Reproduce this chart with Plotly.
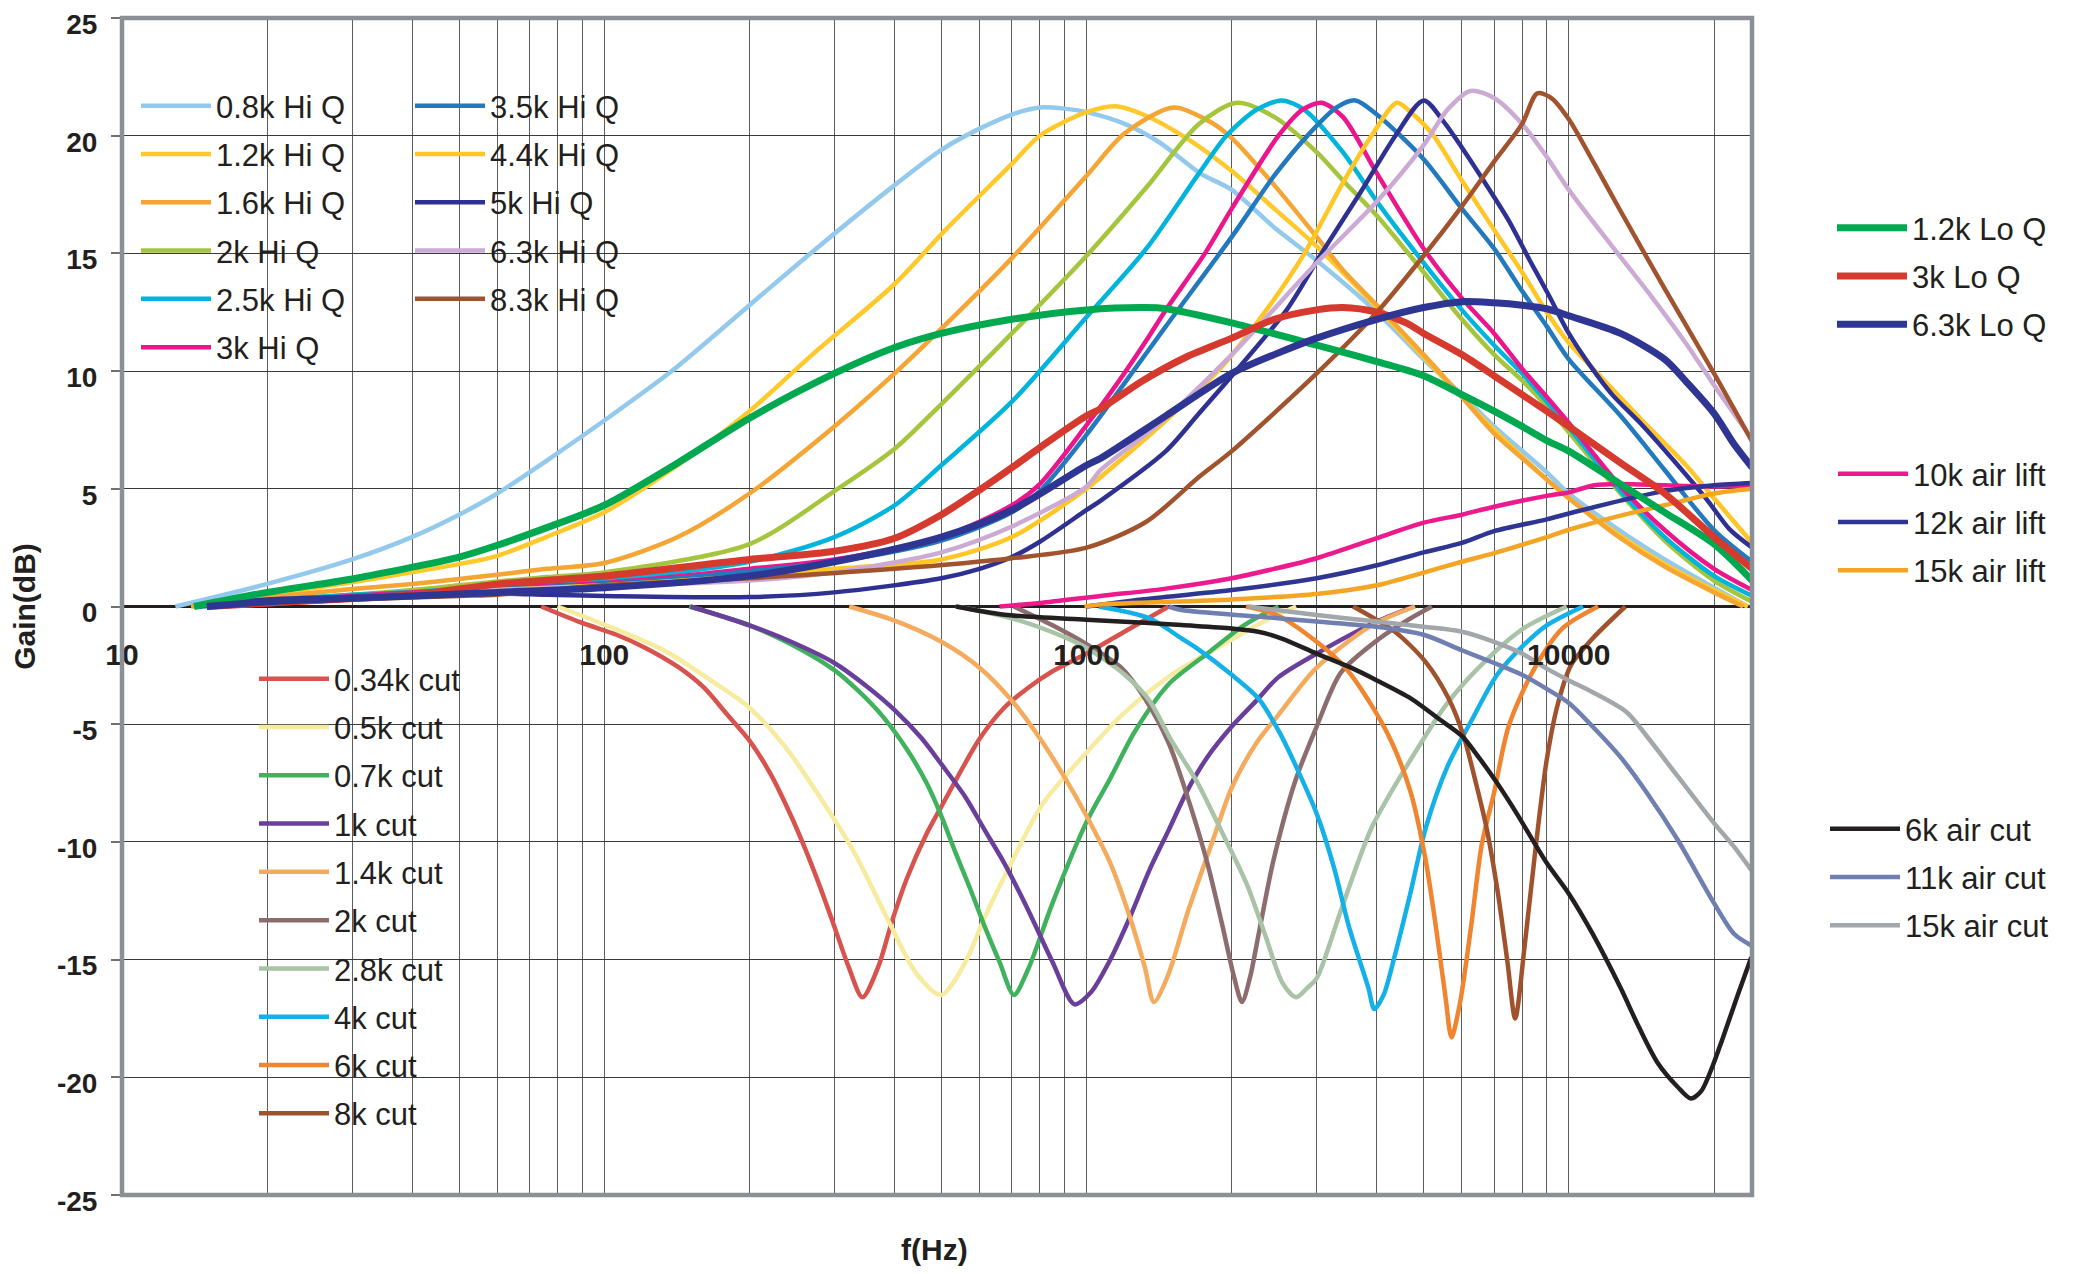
import math
import plotly.graph_objects as go

# ------------------------------------------------------------------
# DATA (frequency in Hz, gain in dB)
# ------------------------------------------------------------------
x_tick_vals = [10, 100, 1000, 10000]
x_tick_text = ["10", "100", "1000", "10000"]
x_minor_vals = [20, 30, 40, 50, 60, 70, 80, 90,
                200, 300, 400, 500, 600, 700, 800, 900,
                2000, 3000, 4000, 5000, 6000, 7000, 8000, 9000,
                20000]
y_tick_vals = [25, 20, 15, 10, 5, 0, -5, -10, -15, -20, -25]
y_tick_text = ["25", "20", "15", "10", "5", "0", "-5", "-10", "-15", "-20", "-25"]

# ---- Hi Q boosts ----
f_hiq_08 = [12.9, 20, 30, 40, 50, 60, 76, 100, 138, 200, 275, 400, 500, 600, 700, 800, 900, 1000, 1200,
            1420, 1720, 2000, 2450, 3000, 4000, 5000, 6000, 7000, 9000, 10000, 12800, 15800, 20000, 23500]
g_hiq_08 = [0, 0.96, 2.0, 2.96, 3.9, 4.8, 6.2, 7.9, 10.0, 12.8, 15.2, 17.9, 19.4, 20.3, 20.9, 21.2, 21.15, 21.0, 20.5,
            19.7, 18.4, 17.7, 16.1, 14.7, 12.5, 10.5, 9.0, 7.65, 5.7, 4.8, 3.2, 2.0, 0.8, 0.0]

f_hiq_12 = [14, 20, 30, 40, 50, 60, 76, 100, 142, 200, 270, 400, 510, 700, 800, 1000, 1150, 1310, 1610, 2000,
            2450, 3000, 4000, 5000, 6000, 7000, 9000, 10000, 12800, 15800, 20000, 23500]
g_hiq_12 = [0, 0.5, 1.03, 1.46, 1.8, 2.15, 2.96, 4.0, 6.0, 8.3, 10.7, 13.7, 16.0, 18.8, 20.0, 21.0, 21.25, 20.9, 19.9, 18.5,
            16.9, 15.3, 12.7, 10.6, 8.9, 7.5, 5.4, 4.6, 3.0, 1.8, 0.7, 0.0]

f_hiq_16 = [13.9, 20, 30, 40, 50, 60, 76, 100, 142, 200, 300, 400, 500, 700, 1000, 1200, 1515, 1800, 2000, 2450,
            3000, 3400, 4000, 5000, 6000, 7000, 8000, 10000, 12800, 15800, 20000, 23000]
g_hiq_16 = [0, 0.39, 0.74, 0.96, 1.17, 1.35, 1.6, 1.85, 2.95, 4.8, 7.65, 9.9, 11.8, 14.8, 18.3, 20.1, 21.2, 20.6, 19.9, 17.9,
            15.7, 14.3, 12.8, 10.7, 8.9, 7.35, 6.3, 4.6, 2.9, 1.7, 0.6, 0.0]

f_hiq_20 = [14.4, 20, 30, 40, 50, 60, 76, 100, 200, 300, 400, 500, 700, 1000, 1330, 1710, 2050, 2450, 3000, 3400,
            4000, 5000, 6000, 7000, 8000, 9000, 10000, 12800, 15800, 20000, 24000]
g_hiq_20 = [0, 0.25, 0.5, 0.7, 0.9, 1.06, 1.25, 1.45, 2.65, 4.9, 6.7, 8.6, 11.6, 14.9, 17.8, 20.5, 21.4, 20.8, 19.3, 18.1,
            16.6, 14.2, 12.2, 10.7, 9.6, 8.5, 7.4, 4.8, 2.8, 1.1, 0.2]

f_hiq_25 = [14.8, 20, 30, 40, 50, 60, 76, 100, 200, 300, 400, 500, 700, 1000, 1330, 1710, 1950, 2250, 2540, 2830,
            3400, 4000, 5000, 6000, 7000, 8000, 9000, 10000, 12800, 15800, 20000, 24000]
g_hiq_25 = [0, 0.25, 0.5, 0.62, 0.75, 0.85, 1.0, 1.15, 1.9, 2.95, 4.3, 6.0, 8.7, 12.3, 15.2, 18.4, 20.0, 21.1, 21.5, 21.1,
            19.3, 17.2, 14.6, 12.6, 11.1, 9.9, 8.7, 7.6, 4.9, 2.95, 1.3, 0.45]

f_hiq_30 = [15.8, 20, 30, 40, 60, 100, 200, 300, 500, 700, 800, 1000, 1160, 1330, 1460, 1760, 2000, 2500, 2800, 3070,
            3400, 4000, 5000, 6000, 7000, 8000, 9000, 10000, 12800, 15800, 20000, 24000]
g_hiq_30 = [0, 0.2, 0.45, 0.6, 0.8, 1.0, 1.6, 2.0, 2.95, 4.3, 5.2, 7.7, 9.5, 11.3, 12.6, 15.0, 16.9, 20.0, 21.1, 21.4,
            20.8, 18.4, 15.2, 13.1, 11.6, 10.1, 8.9, 7.8, 5.1, 3.25, 1.6, 0.7]

f_hiq_35 = [15, 20, 40, 60, 100, 200, 300, 500, 700, 800, 1000, 1200, 1460, 2000, 2450, 2900, 3300, 3610, 4000, 5000,
            6000, 7000, 8000, 9000, 10000, 12800, 15800, 20000, 24000]
g_hiq_35 = [0, 0.2, 0.55, 0.75, 0.95, 1.5, 1.9, 2.8, 4.0, 4.9, 7.3, 9.5, 11.9, 15.7, 18.3, 20.1, 21.2, 21.5, 20.9, 19.0,
            16.9, 15.2, 13.4, 11.9, 10.5, 8.1, 5.8, 3.25, 1.9]

f_hiq_44 = [15, 20, 40, 60, 100, 200, 300, 500, 700, 1000, 1070, 1460, 1910, 2400, 2830, 3400, 3900, 4400, 4700, 5200,
            6000, 7000, 8000, 9000, 10000, 11600, 14200, 17500, 20000, 24000]
g_hiq_44 = [0, 0.2, 0.5, 0.7, 0.9, 1.3, 1.6, 2.0, 2.95, 5.0, 5.5, 7.9, 10.2, 12.8, 15.0, 18.0, 20.0, 21.4, 21.0, 20.1,
            18.1, 16.0, 14.2, 12.5, 11.2, 9.8, 7.9, 6.0, 4.6, 2.7]

f_hiq_50 = [14.5, 20, 40, 60, 76, 100, 200, 300, 500, 600, 700, 800, 1000, 1070, 1460, 1710, 2120, 2600, 3070, 3700,
            4370, 5000, 5500, 6000, 6700, 7500, 8300, 9100, 10000, 11100, 12300, 14200, 16500, 19400, 21500, 24000]
g_hiq_50 = [0, 0.3, 0.45, 0.55, 0.5, 0.45, 0.4, 0.6, 1.2, 1.6, 2.1, 2.75, 4.1, 4.5, 6.6, 8.2, 10.4, 12.6, 15.0, 17.6,
            20.0, 21.5, 20.6, 19.5, 18.0, 16.4, 14.7, 13.2, 11.6, 10.2, 9.0, 7.7, 6.2, 4.5, 3.3, 2.5]

f_hiq_63 = [15, 20, 40, 60, 100, 200, 300, 500, 700, 1000, 1070, 1460, 2000, 3000, 4000, 5000, 5600, 6250, 7000, 8000,
            9000, 10000, 12300, 14800, 17600, 20000, 24000]
g_hiq_63 = [0, 0.2, 0.5, 0.7, 0.85, 1.1, 1.45, 2.3, 3.4, 5.1, 5.8, 8.0, 10.7, 14.6, 17.2, 19.6, 21.1, 21.9, 21.6, 20.5,
            19.1, 17.7, 15.3, 13.2, 11.1, 9.4, 7.1]

f_hiq_83 = [16, 20, 30, 50, 60, 100, 200, 400, 700, 1000, 1330, 1710, 2000, 3000, 4000, 5000, 6000, 7000, 8000, 8600,
            9200, 10000, 11300, 12800, 15800, 20000, 24000]
g_hiq_83 = [0, 0.1, 0.3, 0.45, 0.5, 0.9, 1.2, 1.6, 2.05, 2.5, 3.6, 5.5, 6.6, 9.9, 12.5, 14.9, 17.0, 18.9, 20.5, 21.8,
            21.6, 20.7, 18.8, 16.8, 13.5, 9.9, 7.0]

# ---- Lo Q boosts ----
f_loq_12 = [14.1, 20, 30, 40, 50, 60, 76, 100, 142, 200, 300, 400, 500, 700, 1000, 1330, 1460, 2000, 3000, 4000,
            5000, 6000, 7000, 8000, 9000, 10000, 12800, 15800, 20000, 24000]
g_loq_12 = [0, 0.6, 1.17, 1.67, 2.1, 2.6, 3.35, 4.3, 6.1, 8.0, 9.9, 11.0, 11.6, 12.2, 12.6, 12.7, 12.65, 12.05, 11.1, 10.4,
            9.8, 9.0, 8.3, 7.65, 7.05, 6.6, 5.2, 4.0, 2.65, 1.1]

f_loq_30 = [15, 20, 40, 60, 100, 200, 300, 400, 500, 600, 700, 800, 1000, 1070, 1310, 1610, 2000, 2450, 3000, 3400,
            4000, 4600, 5000, 6000, 7000, 8000, 9000, 10000, 12800, 15800, 20000, 24000]
g_loq_30 = [0, 0.15, 0.5, 0.95, 1.3, 2.0, 2.35, 2.9, 3.9, 4.95, 5.9, 6.75, 8.1, 8.4, 9.6, 10.6, 11.4, 12.2, 12.6, 12.7,
            12.5, 12.05, 11.6, 10.7, 9.8, 9.0, 8.3, 7.65, 6.1, 4.8, 2.95, 1.6]

f_loq_63 = [15, 20, 40, 60, 100, 200, 300, 500, 700, 1000, 1070, 1460, 2000, 2450, 3000, 4000, 5000, 6000, 7000, 8000,
            9000, 10000, 12800, 15800, 17600, 20000, 22000, 24000]
g_loq_63 = [0, 0.2, 0.45, 0.6, 0.8, 1.3, 1.9, 2.95, 4.1, 6.0, 6.3, 8.1, 9.9, 10.7, 11.4, 12.2, 12.7, 12.95, 12.9, 12.8,
            12.65, 12.35, 11.6, 10.5, 9.5, 8.2, 6.9, 5.9]

# ---- air lifts ----
f_air_10 = [660, 800, 1070, 1460, 2000, 2450, 3000, 4000, 5000, 6000, 7000, 9000, 10000, 11300, 12800, 15800, 20000, 24000]
g_air_10 = [0, 0.15, 0.45, 0.76, 1.2, 1.6, 2.05, 2.9, 3.56, 3.9, 4.24, 4.7, 4.85, 5.15, 5.2, 5.15, 5.1, 5.15]

f_air_12 = [1000, 1300, 2000, 3000, 4000, 5000, 6000, 7000, 9000, 10000, 12800, 15800, 20000, 24000]
g_air_12 = [0, 0.3, 0.7, 1.2, 1.75, 2.3, 2.7, 3.2, 3.7, 3.95, 4.5, 4.9, 5.15, 5.25]

f_air_15 = [990, 1070, 2000, 3000, 4000, 5000, 6000, 7000, 9000, 10000, 12800, 15800, 20000, 24000]
g_air_15 = [0, 0.08, 0.3, 0.53, 0.9, 1.44, 1.9, 2.27, 2.95, 3.26, 3.86, 4.3, 4.8, 5.0]

# ---- cuts ----
f_cut_034 = [74, 90, 106, 122, 143, 161, 180, 200, 221, 244, 261, 280, 300, 321, 343, 370, 396, 425, 466, 500,
             601, 675, 757, 850, 1000, 1200, 1480]
g_cut_034 = [0, -0.7, -1.2, -1.77, -2.6, -3.45, -4.6, -5.7, -7.1, -8.9, -10.3, -11.9, -13.6, -15.3, -16.6, -15.3,
             -13.3, -11.5, -9.65, -8.5, -5.6, -4.3, -3.45, -2.75, -2.0, -1.06, 0]

f_cut_05 = [80, 100, 134, 168, 200, 238, 280, 329, 385, 444, 500, 561, 615, 690, 810, 1000, 1200, 1500, 2000, 2400, 2720]
g_cut_05 = [0, -0.77, -1.9, -3.2, -4.3, -6.0, -8.1, -10.4, -13.2, -15.6, -16.5, -15.1, -13.2, -11.1, -8.4, -6.2,
            -4.5, -2.9, -1.4, -0.5, 0]

f_cut_07 = [150, 176, 200, 244, 300, 337, 379, 425, 466, 500, 536, 574, 615, 660, 707, 757, 850, 1000, 1120, 1260,
            1480, 1780, 2120, 2500]
g_cut_07 = [0, -0.42, -0.8, -1.6, -2.7, -3.6, -4.7, -6.1, -7.5, -8.9, -10.5, -12.0, -13.6, -15.1, -16.5, -15.4,
            -12.6, -9.15, -7.3, -5.3, -3.3, -2.0, -0.8, 0]

f_cut_10 = [151, 200, 244, 300, 353, 400, 455, 500, 561, 615, 675, 757, 850, 944, 1020, 1120, 1230, 1350, 1480, 1620,
            1780, 2000, 2250, 2500, 3000, 4000, 4770]
g_cut_10 = [0, -0.8, -1.5, -2.4, -3.45, -4.4, -5.6, -6.7, -8.1, -9.5, -10.9, -12.9, -15.1, -16.9, -16.4, -15.0,
            -13.2, -11.2, -9.5, -7.8, -6.4, -5.1, -4.0, -3.0, -2.0, -0.64, 0]

f_cut_14 = [322, 400, 500, 600, 700, 800, 900, 1000, 1120, 1230, 1320, 1380, 1480, 1620, 1830, 2000, 2250, 2500, 3000,
            3900, 4800]
g_cut_14 = [0, -0.6, -1.5, -2.6, -4.0, -5.6, -7.25, -8.9, -10.9, -13.2, -15.3, -16.8, -15.6, -13.0, -9.9, -7.7,
            -5.8, -4.6, -2.6, -0.8, 0]

f_cut_20 = [707, 850, 1000, 1180, 1320, 1480, 1620, 1780, 1910, 2020, 2100, 2180, 2280, 2440, 2710, 3000, 3370, 4050,
            4700, 5200]
g_cut_20 = [0, -0.8, -1.6, -2.6, -3.9, -5.8, -8.1, -10.9, -13.5, -15.7, -16.8, -15.8, -13.8, -10.8, -7.4, -5.1,
            -2.8, -1.36, -0.5, 0]

f_cut_28 = [536, 700, 900, 1000, 1200, 1350, 1500, 1700, 1900, 2150, 2350, 2550, 2720, 2870, 3000, 3370, 3900, 4700,
            5600, 6800, 8100, 9900]
g_cut_28 = [0, -0.5, -1.3, -1.76, -2.9, -4.0, -5.7, -7.5, -9.5, -11.8, -14.0, -16.0, -16.6, -16.2, -15.8, -12.9,
            -9.4, -6.5, -4.1, -2.2, -0.9, 0]

f_cut_40 = [1060, 1350, 1575, 1700, 2000, 2270, 2520, 2720, 3000, 3260, 3500, 3840, 3950, 4130, 4360, 4690, 5050,
            5600, 6300, 7100, 8100, 9000, 10700]
g_cut_40 = [0, -0.5, -1.36, -1.8, -2.9, -3.9, -5.4, -6.8, -8.8, -11.1, -13.6, -16.2, -17.1, -16.5, -14.8, -12.2,
            -9.4, -6.8, -4.8, -2.9, -1.6, -0.8, 0]

f_cut_60 = [2140, 2480, 3000, 3440, 3900, 4300, 4700, 5050, 5300, 5550, 5710, 5940, 6270, 6600, 7000, 7500, 8400,
            9700, 11500]
g_cut_60 = [0, -0.36, -1.5, -2.6, -4.2, -5.8, -7.9, -10.8, -13.6, -16.6, -18.3, -16.9, -13.6, -10.1, -7.9, -5.1,
            -2.8, -0.93, 0]

f_cut_80 = [3570, 4360, 5050, 5630, 6050, 6400, 6750, 7130, 7460, 7740, 8100, 8550, 9000, 9500, 10100, 11200, 13100]
g_cut_80 = [0, -1.07, -2.36, -3.9, -5.5, -7.4, -9.4, -12.2, -15.1, -17.5, -14.4, -10.1, -6.5, -4.1, -2.5, -1.36, 0]

# ---- air cuts ----
f_aircut_6 = [536, 676, 1000, 1350, 1575, 2000, 2270, 2540, 3000, 3570, 4000, 4700, 5400, 6000, 6500, 7100, 7800,
              8400, 9000, 10000, 11200, 12800, 14000, 15300, 16800, 17900, 18800, 19800, 20800, 22400, 23900]
g_aircut_6 = [0, -0.35, -0.56, -0.7, -0.79, -0.93, -1.07, -1.36, -2.0, -2.64, -3.14, -3.9, -4.8, -5.5, -6.4, -7.5,
              -8.8, -9.9, -10.9, -12.2, -13.9, -16.2, -17.9, -19.4, -20.4, -20.9, -20.6, -19.6, -18.4, -16.5, -14.9]

f_aircut_11 = [1480, 1575, 2270, 3000, 4000, 5000, 6000, 7000, 8000, 9000, 10000, 11200, 12800, 14500, 16800, 20000,
               22000, 23900]
g_aircut_11 = [0, -0.15, -0.43, -0.64, -0.86, -1.2, -1.86, -2.4, -2.9, -3.5, -4.1, -5.1, -6.4, -7.9, -9.9, -12.6,
               -13.9, -14.4]

f_aircut_15 = [2170, 3000, 4000, 5000, 6000, 7000, 8000, 9000, 10000, 11200, 13200, 14500, 16800, 20000, 22000, 23900]
g_aircut_15 = [0, -0.36, -0.64, -0.86, -1.07, -1.5, -2.0, -2.64, -3.14, -3.64, -4.5, -5.5, -7.2, -9.2, -10.2, -11.2]

# (legend label, frequencies, gains, legend id)
SERIES = [
    ("0.8k Hi Q", f_hiq_08, g_hiq_08, "legend"),
    ("1.2k Hi Q", f_hiq_12, g_hiq_12, "legend"),
    ("1.6k Hi Q", f_hiq_16, g_hiq_16, "legend"),
    ("2k Hi Q", f_hiq_20, g_hiq_20, "legend"),
    ("2.5k Hi Q", f_hiq_25, g_hiq_25, "legend"),
    ("3k Hi Q", f_hiq_30, g_hiq_30, "legend"),
    ("3.5k Hi Q", f_hiq_35, g_hiq_35, "legend2"),
    ("4.4k Hi Q", f_hiq_44, g_hiq_44, "legend2"),
    ("5k Hi Q", f_hiq_50, g_hiq_50, "legend2"),
    ("6.3k Hi Q", f_hiq_63, g_hiq_63, "legend2"),
    ("8.3k Hi Q", f_hiq_83, g_hiq_83, "legend2"),
    ("0.34k cut", f_cut_034, g_cut_034, "legend3"),
    ("0.5k cut", f_cut_05, g_cut_05, "legend3"),
    ("0.7k cut", f_cut_07, g_cut_07, "legend3"),
    ("1k cut", f_cut_10, g_cut_10, "legend3"),
    ("1.4k cut", f_cut_14, g_cut_14, "legend3"),
    ("2k cut", f_cut_20, g_cut_20, "legend3"),
    ("2.8k cut", f_cut_28, g_cut_28, "legend3"),
    ("4k cut", f_cut_40, g_cut_40, "legend3"),
    ("6k cut", f_cut_60, g_cut_60, "legend3"),
    ("8k cut", f_cut_80, g_cut_80, "legend3"),
    ("10k air lift", f_air_10, g_air_10, "legend5"),
    ("12k air lift", f_air_12, g_air_12, "legend5"),
    ("15k air lift", f_air_15, g_air_15, "legend5"),
    ("6k air cut", f_aircut_6, g_aircut_6, "legend6"),
    ("11k air cut", f_aircut_11, g_aircut_11, "legend6"),
    ("15k air cut", f_aircut_15, g_aircut_15, "legend6"),
    ("1.2k Lo Q", f_loq_12, g_loq_12, "legend4"),
    ("3k Lo Q", f_loq_30, g_loq_30, "legend4"),
    ("6.3k Lo Q", f_loq_63, g_loq_63, "legend4"),
]

# ------------------------------------------------------------------
# STYLE
# ------------------------------------------------------------------
COLORS = {
    "0.8k Hi Q": "#93c9ec", "1.2k Hi Q": "#ffc92b", "1.6k Hi Q": "#f5a533", "2k Hi Q": "#a4c53c",
    "2.5k Hi Q": "#00b4dc", "3k Hi Q": "#ec168c", "3.5k Hi Q": "#2279bd", "4.4k Hi Q": "#ffc626",
    "5k Hi Q": "#2e3192", "6.3k Hi Q": "#cbaad4", "8.3k Hi Q": "#a0532d",
    "1.2k Lo Q": "#00a950", "3k Lo Q": "#d63a2e", "6.3k Lo Q": "#2e3592",
    "10k air lift": "#ec1a8d", "12k air lift": "#2e3592", "15k air lift": "#f5a524",
    "0.34k cut": "#d8524e", "0.5k cut": "#f6eb9f", "0.7k cut": "#40b25e", "1k cut": "#6a3f9b",
    "1.4k cut": "#f5ab5e", "2k cut": "#8c6c6c", "2.8k cut": "#a8c3a6", "4k cut": "#14b0e8",
    "6k cut": "#f0842f", "8k cut": "#a0522d",
    "6k air cut": "#231f20", "11k air cut": "#6f7fb1", "15k air cut": "#a2a7ab",
}
THICK = {"1.2k Lo Q", "3k Lo Q", "6.3k Lo Q"}

# the page adds an 8px body margin; the figure is sized/placed so the plot
# area lands at page pixels x 122..1752, y 18..1195
PAGE_OFF = 8
W, H = 2087 - 2 * PAGE_OFF, 1274 - 2 * PAGE_OFF
PX0, PX1, PY0, PY1 = 122, 1752, 18, 1195
ML, MT = PX0 - PAGE_OFF, PY0 - PAGE_OFF
MR, MB = W - (PX1 - PAGE_OFF), H - (PY1 - PAGE_OFF)
PW, PH = PX1 - PX0, PY1 - PY0
X_MAX_LOG = 4.3798


def px_x(X):
    return (X - PX0) / PW


def px_y(Y):
    return (PY1 - Y) / PH


TEXT = "#231f20"
FONT = "Liberation Sans, Arial, sans-serif"

fig = go.Figure()
for name, f, g, leg in SERIES:
    fig.add_trace(go.Scatter(
        x=f, y=g, mode="lines", name=name, legend=leg, legendgroup=name,
        line=dict(color=COLORS[name], width=7 if name in THICK else 4.5,
                  shape="spline", smoothing=0.8),
        hoverinfo="x+y+name",
    ))

leg_common = dict(xanchor="left", yanchor="top", bgcolor="rgba(0,0,0,0)", borderwidth=0,
                  font=dict(family=FONT, size=31, color=TEXT), itemwidth=70, tracegroupgap=5)

fig.update_layout(
    width=W, height=H,
    margin=dict(l=ML, r=MR, t=MT, b=MB, autoexpand=False),
    paper_bgcolor="white", plot_bgcolor="white",
    font=dict(family=FONT, color=TEXT),
    showlegend=True,
    legend=dict(x=px_x(136), y=px_y(79), **leg_common),
    legend2=dict(x=px_x(410), y=px_y(79), **leg_common),
    legend3=dict(x=px_x(254), y=px_y(652), **leg_common),
    legend4=dict(x=px_x(1832), y=px_y(201), **leg_common),
    legend5=dict(x=px_x(1833), y=px_y(447), **leg_common),
    legend6=dict(x=px_x(1825), y=px_y(802), **leg_common),
)

fig.update_xaxes(
    type="log", range=[1, X_MAX_LOG],
    anchor="free", position=0.5,
    tickvals=x_tick_vals, ticktext=x_tick_text, ticks="",
    tickfont=dict(family=FONT, size=30, color=TEXT, weight="bold"),
    ticklabelstandoff=27, ticklabeloverflow="allow",
    showline=False, zeroline=False,
    showgrid=True, gridcolor="#5c5c5c", gridwidth=1.3,
    minor=dict(tickvals=x_minor_vals, showgrid=True, gridcolor="#5c5c5c", gridwidth=1.3, ticks=""),
)
fig.update_yaxes(
    range=[-25, 25],
    tickvals=y_tick_vals, ticktext=y_tick_text,
    ticks="outside", ticklen=10, tickwidth=1.5, tickcolor="#707070",
    tickfont=dict(family=FONT, size=28, color=TEXT, weight="bold"),
    ticklabelstandoff=8, ticklabelshift=6, ticklabeloverflow="allow",
    showline=False,
    showgrid=True, gridcolor="#3a3a3a", gridwidth=1.3,
    zeroline=True, zerolinecolor="#231f20", zerolinewidth=3,
    title=dict(text="Gain(dB)", font=dict(family=FONT, size=30, color=TEXT, weight="bold"), standoff=14),
)

# white backing behind the in-plot legends (hides the grid there)
fig.add_shape(type="rect", xref="paper", yref="paper", layer="between",
              x0=0, x1=px_x(643), y0=px_y(386), y1=px_y(64),
              fillcolor="white", line=dict(width=0))
fig.add_shape(type="rect", xref="paper", yref="paper", layer="between",
              x0=px_x(230), x1=px_x(511), y0=px_y(1157), y1=px_y(620),
              fillcolor="white", line=dict(width=0))
# plot frame
fig.add_shape(type="rect", xref="paper", yref="paper", layer="above",
              x0=0, x1=1, y0=0, y1=1, line=dict(color="#8a9096", width=4.5))

fig.add_annotation(text="f(Hz)", xref="paper", yref="paper", x=px_x(934), y=px_y(1250),
                   showarrow=False, xanchor="center", yanchor="middle",
                   font=dict(family=FONT, size=30, color=TEXT, weight="bold"))

fig.write_html("out.html")
